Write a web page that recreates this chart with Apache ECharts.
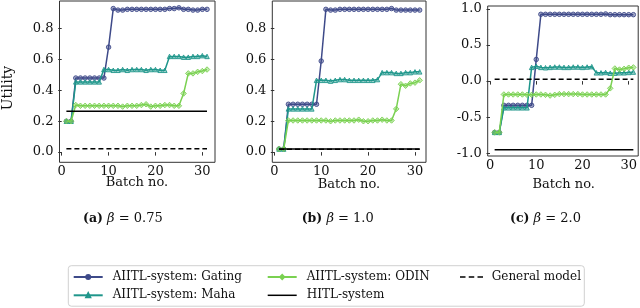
<!DOCTYPE html>
<html><head><meta charset="utf-8">
<script src="https://cdn.jsdelivr.net/npm/echarts@6/dist/echarts.min.js"></script>
<style>html,body{margin:0;padding:0;background:#fff}#c{width:640px;height:308px}</style>
</head><body><div id="c"></div>
<script>
const batches = [1,2,3,4,5,6,7,8,9,10,11,12,13,14,15,16,17,18,19,20,21,22,23,24,25,26,27,28,29,30,31];
const seriesNames = ['AIITL-system: Gating','AIITL-system: Maha','AIITL-system: ODIN','HITL-system','General model'];
const panelTitles = ['0.75','1.0','2.0'];

// beta = 0.75
const gatingA = [0.20,0.20,0.48,0.48,0.48,0.48,0.48,0.48,0.48,0.68,0.93,0.92,0.92,0.925,0.925,0.925,0.925,0.925,0.925,0.925,0.925,0.925,0.93,0.93,0.935,0.925,0.925,0.92,0.92,0.925,0.925];
const mahaA   = [0.20,0.20,0.455,0.455,0.455,0.455,0.455,0.455,0.535,0.535,0.53,0.53,0.535,0.53,0.535,0.535,0.535,0.53,0.535,0.535,0.53,0.53,0.62,0.62,0.62,0.615,0.615,0.62,0.62,0.625,0.62];
const odinA   = [0.20,0.20,0.305,0.30,0.30,0.30,0.30,0.30,0.30,0.30,0.30,0.30,0.295,0.30,0.30,0.30,0.305,0.31,0.295,0.30,0.30,0.305,0.305,0.30,0.30,0.38,0.51,0.51,0.52,0.525,0.535];
const hitlA = 0.265;
const generalA = 0.022;

// beta = 1.0
const gatingB = [0.02,0.02,0.31,0.31,0.31,0.31,0.31,0.31,0.31,0.59,0.925,0.92,0.92,0.925,0.925,0.925,0.925,0.925,0.925,0.925,0.925,0.925,0.925,0.925,0.93,0.92,0.92,0.92,0.92,0.92,0.92];
const mahaB   = [0.02,0.02,0.28,0.28,0.28,0.28,0.28,0.28,0.465,0.465,0.465,0.46,0.465,0.47,0.47,0.465,0.465,0.465,0.465,0.465,0.465,0.47,0.515,0.515,0.515,0.51,0.51,0.515,0.515,0.52,0.52];
const odinB   = [0.02,0.02,0.205,0.205,0.205,0.205,0.205,0.205,0.205,0.205,0.205,0.20,0.205,0.205,0.205,0.205,0.205,0.21,0.20,0.20,0.205,0.205,0.21,0.205,0.205,0.28,0.44,0.43,0.445,0.45,0.465];
const hitlB = 0.02;
const generalB = 0.018;

// beta = 2.0
const gatingC = [-0.71,-0.71,-0.335,-0.335,-0.335,-0.335,-0.335,-0.335,-0.335,0.30,0.925,0.925,0.925,0.925,0.925,0.925,0.925,0.925,0.925,0.925,0.925,0.925,0.925,0.925,0.93,0.92,0.92,0.92,0.92,0.92,0.92];
const mahaC   = [-0.71,-0.71,-0.37,-0.37,-0.37,-0.37,-0.37,-0.37,0.19,0.205,0.19,0.185,0.19,0.195,0.195,0.19,0.19,0.195,0.195,0.19,0.195,0.20,0.115,0.115,0.12,0.11,0.11,0.115,0.115,0.12,0.125];
const odinC   = [-0.71,-0.71,-0.185,-0.185,-0.185,-0.185,-0.185,-0.19,-0.19,-0.185,-0.185,-0.19,-0.20,-0.19,-0.18,-0.18,-0.18,-0.18,-0.18,-0.185,-0.185,-0.185,-0.185,-0.185,-0.185,-0.10,0.175,0.16,0.17,0.185,0.19];
const hitlC = -0.95;
const generalC = 0.025;

const xTicks = [0,10,20,30];
const yTicksAB = [0,0.2,0.4,0.6,0.8];
const yTicksC = [-1,-0.5,0,0.5,1];

const panels = [
  {g: gatingA, m: mahaA, o: odinA, h: hitlA, gen: generalA, grid:{left:59.5, top:1, width:155.5, height:161.3}, x:[-0.47,32.7], y:[-0.066,0.979], yt:yTicksAB},
  {g: gatingB, m: mahaB, o: odinB, h: hitlB, gen: generalB, grid:{left:272.3, top:1, width:153.7, height:161.3}, x:[-0.43,32.35], y:[-0.066,0.979], yt:yTicksAB},
  {g: gatingC, m: mahaC, o: odinC, h: hitlC, gen: generalC, grid:{left:487.7, top:6, width:151, height:150}, x:[-0.5,32.05], y:[-1.037,1.04], yt:yTicksC}
];

const FONT = 'DejaVu Serif';
const colGating = '#3e4a89', colMaha = '#1f968b', colOdin = '#7ad151';
const fillGating = 'rgba(62,74,137,0.45)', fillMaha = 'rgba(31,150,139,0.45)', fillOdin = 'rgba(122,209,81,0.45)';
const axisColor = '#333';

const grids = [], xAxes = [], yAxes = [], series = [];
panels.forEach((p, i) => {
  grids.push(Object.assign({show:true, borderColor:axisColor, borderWidth:1, backgroundColor:'transparent'}, p.grid));
  xAxes.push({type:'value', gridIndex:i, min:p.x[0], max:p.x[1],
    axisLine:{show:false}, splitLine:{show:false},
    axisTick:{show:true, inside:false, length:3.5, customValues:xTicks, lineStyle:{color:axisColor, width:1}},
    axisLabel:{customValues:xTicks, fontFamily:FONT, fontSize:13, color:'#111', margin:3}});
  yAxes.push({type:'value', gridIndex:i, min:p.y[0], max:p.y[1],
    axisLine:{show:false}, splitLine:{show:false},
    axisTick:{show:true, inside:false, length:3.5, customValues:p.yt, lineStyle:{color:axisColor, width:1}},
    axisLabel:{customValues:p.yt, fontFamily:FONT, fontSize:13, color:'#111', margin:6, formatter: v => v.toFixed(1)}});
  const pts = arr => batches.map((b, k) => [b, arr[k]]);
  const flat = v => batches.map(b => [b, v]);
  series.push({name:seriesNames[0], type:'line', xAxisIndex:i, yAxisIndex:i, data:pts(p.g), symbol:'circle', symbolSize:4.5,
    lineStyle:{color:colGating, width:1.5}, itemStyle:{color:fillGating, borderColor:colGating, borderWidth:0.9}, z:2, animation:false});
  series.push({name:seriesNames[1], type:'line', xAxisIndex:i, yAxisIndex:i, data:pts(p.m), symbol:'triangle', symbolSize:4.5,
    lineStyle:{color:colMaha, width:1.5}, itemStyle:{color:fillMaha, borderColor:colMaha, borderWidth:0.9}, z:3, animation:false});
  series.push({name:seriesNames[2], type:'line', xAxisIndex:i, yAxisIndex:i, data:pts(p.o), symbol:'diamond', symbolSize:5.5,
    lineStyle:{color:colOdin, width:1.5}, itemStyle:{color:fillOdin, borderColor:colOdin, borderWidth:0.9}, z:4, animation:false});
  series.push({name:seriesNames[3], type:'line', xAxisIndex:i, yAxisIndex:i, data:flat(p.h), symbol:'none', showSymbol:false,
    lineStyle:{color:'#000', width:1.5}, itemStyle:{color:'#000'}, z:5, animation:false});
  series.push({name:seriesNames[4], type:'line', xAxisIndex:i, yAxisIndex:i, data:flat(p.gen), symbol:'none', showSymbol:false,
    lineStyle:{color:'#000', width:1.5, type:[5,3]}, itemStyle:{color:'#000'}, z:5, animation:false});
});

const legendText = {fontFamily:FONT, fontSize:12, color:'#111', lineHeight:14, padding:[0,0,0,5]};
const legendBase = {orient:'vertical', itemWidth:29, itemHeight:5, itemGap:4.3, padding:0, selectedMode:false, textStyle:legendText};
const solidIcon = 'path://M0,0h29v1.5h-29z';
const dashIcon = 'path://M0,0h5.5v1.5h-5.5z M8.75,0h5.5v1.5h-5.5z M17.5,0h5.5v1.5h-5.5z';
const legends = [
  Object.assign({}, legendBase, {data:[seriesNames[0], seriesNames[1]], left:72.7, top:270}),
  Object.assign({}, legendBase, {data:[seriesNames[2], {name:seriesNames[3], icon:solidIcon}], left:266.7, top:270}),
  Object.assign({}, legendBase, {itemWidth:23, data:[{name:seriesNames[4], icon:dashIcon}], left:460, top:270,
    textStyle:Object.assign({}, legendText, {padding:[0,0,0,3.7]})})
];

const titleRich = {b:{fontFamily:FONT, fontSize:12.5, fontWeight:'bold', fill:'#111'}, i:{fontFamily:FONT, fontSize:13, fontStyle:'italic', fill:'#111'}, n:{fontFamily:FONT, fontSize:13, fill:'#111'}};
const titleX = [83, 301.7, 510];
const letters = ['(a)','(b)','(c)'];
const graphics = [
  {type:'rect', shape:{x:68.3, y:265.7, width:516, height:40.5, r:3}, style:{fill:'#fff', stroke:'#d0d0d0', lineWidth:1}, z:-1},
  {type:'text', x:8.5, y:88, rotation:Math.PI/2, style:{text:'Utility', fontFamily:FONT, fontSize:14, fill:'#111', align:'center', verticalAlign:'middle'}},
  {type:'text', x:137, y:183, style:{text:'Batch no.', fontFamily:FONT, fontSize:13, fill:'#111', align:'center', verticalAlign:'middle'}},
  {type:'text', x:349, y:184.3, style:{text:'Batch no.', fontFamily:FONT, fontSize:13, fill:'#111', align:'center', verticalAlign:'middle'}},
  {type:'text', x:563.7, y:185, style:{text:'Batch no.', fontFamily:FONT, fontSize:13, fill:'#111', align:'center', verticalAlign:'middle'}}
];
panelTitles.forEach((t, i) => {
  graphics.push({type:'text', x:titleX[i], y:218.3, style:{text:'{b|' + letters[i] + '} {i|β} {n|= ' + t + '}', rich:titleRich, align:'left', verticalAlign:'middle', fontFamily:FONT, fontSize:13}});
});

const chart = echarts.init(document.getElementById('c'), null, {renderer:'canvas'});
chart.setOption({animation:false, backgroundColor:'#fff', grid:grids, xAxis:xAxes, yAxis:yAxes, series:series, legend:legends, graphic:graphics});
</script>
</body></html>
